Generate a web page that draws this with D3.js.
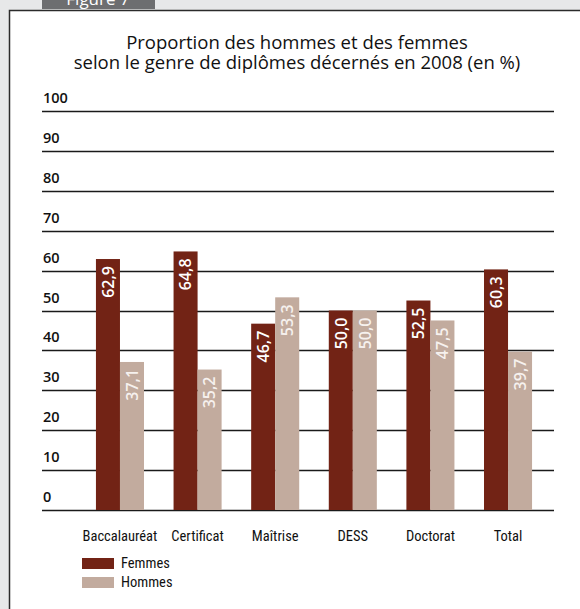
<!DOCTYPE html>
<html>
<head>
<meta charset="utf-8">
<script src="https://cdn.jsdelivr.net/npm/d3@7"></script>
<style>
  body { margin: 0; background: #e7e8e9; }
  svg { display: block; }
</style>
</head>
<body>
<div id="chart"></div>
<script>
var categories = ["Baccalauréat", "Certificat", "Maîtrise", "DESS", "Doctorat", "Total"];
var femmes = [62.9, 64.8, 46.7, 50.0, 52.5, 60.3];
var hommes = [37.1, 35.2, 53.3, 50.0, 47.5, 39.7];
var seriesNames = ["Femmes", "Hommes"];
var yTicks = [0, 10, 20, 30, 40, 50, 60, 70, 80, 90, 100];
var titleLines = ["Proportion des hommes et des femmes", "selon le genre de diplômes décernés en 2008 (en %)"];

var width = 580, height = 609;
var colors = { Femmes: "#722315", Hommes: "#c2ab9e" };
var sans = "'Open Sans', 'Noto Sans', sans-serif";
var narrow = "'Liberation Sans Narrow', 'Roboto Condensed', 'DejaVu Sans Condensed', sans-serif";

var fr = d3.formatLocale({ decimal: ",", thousands: " ", grouping: [3], currency: ["", " €"] });
var fmt = fr.format(".1f");

var svg = d3.select("#chart").append("svg")
  .attr("width", width)
  .attr("height", height);

// page background + framed panel
svg.append("rect").attr("width", width).attr("height", height).attr("fill", "#e7e8e9");
svg.append("rect")
  .attr("x", 9.5).attr("y", 10.5)
  .attr("width", width + 20).attr("height", height + 20)
  .attr("fill", "#fff")
  .attr("stroke", "#2b2b2b")
  .attr("stroke-width", 1.5);

// "Figure 7" tab, cut by the top of the picture
svg.append("rect")
  .attr("x", 42).attr("y", -10)
  .attr("width", 113).attr("height", 19)
  .attr("fill", "#6d6e70");
svg.append("text")
  .attr("x", 98).attr("y", 5)
  .attr("text-anchor", "middle")
  .attr("fill", "#fff")
  .style("font-family", sans)
  .style("font-size", "17px")
  .text("Figure 7");

// title, one text per line
svg.selectAll(".title")
  .data(titleLines)
  .enter().append("text")
  .attr("class", "title")
  .attr("x", 297)
  .attr("y", function(d, i) { return 49 + i * 20; })
  .attr("text-anchor", "middle")
  .attr("fill", "#111")
  .style("font-family", sans)
  .style("font-size", "18.5px")
  .text(function(d) { return d; });

var y = d3.scaleLinear().domain([0, 100]).range([510, 111]);

var x0 = d3.scaleBand()
  .domain(categories)
  .range([81.2, 546.8])
  .paddingInner(0.381)
  .paddingOuter(0.19);

var x1 = d3.scaleBand()
  .domain(seriesNames)
  .range([0, x0.bandwidth()]);

// gridlines + tick labels
var grid = svg.append("g");
grid.selectAll("line")
  .data(yTicks)
  .enter().append("line")
  .attr("x1", 42).attr("x2", 554)
  .attr("y1", function(d) { return Math.round(y(d)) + 0.5; })
  .attr("y2", function(d) { return Math.round(y(d)) + 0.5; })
  .attr("stroke", "#1a1a1a")
  .attr("stroke-width", 1.3);

grid.selectAll("text")
  .data(yTicks)
  .enter().append("text")
  .attr("x", 43)
  .attr("y", function(d) { return y(d) - 8; })
  .attr("fill", "#111")
  .style("font-family", sans)
  .style("font-size", "14.5px")
  .style("font-weight", 600)
  .text(function(d) { return d; });

// bars
var rows = categories.map(function(c, i) {
  return { cat: c, values: [
    { name: "Femmes", value: femmes[i] },
    { name: "Hommes", value: hommes[i] }
  ] };
});

var groups = svg.selectAll(".group")
  .data(rows)
  .enter().append("g")
  .attr("class", "group")
  .attr("transform", function(d) { return "translate(" + x0(d.cat) + ",0)"; });

groups.selectAll("rect")
  .data(function(d) { return d.values; })
  .enter().append("rect")
  .attr("x", function(d) { return x1(d.name); })
  .attr("width", x1.bandwidth())
  .attr("y", function(d) { return y(d.value); })
  .attr("height", function(d) { return y(0) - y(d.value); })
  .attr("fill", function(d) { return colors[d.name]; });

// value labels, rotated, inside the top of each bar
groups.selectAll(".val")
  .data(function(d) { return d.values; })
  .enter().append("text")
  .attr("class", "val")
  .attr("transform", function(d) {
    var cx = x1(d.name) + x1.bandwidth() / 2;
    return "translate(" + cx + "," + (y(d.value) + 7) + ") rotate(-90)";
  })
  .attr("text-anchor", "end")
  .attr("dy", "0.36em")
  .attr("fill", function(d) { return d.name == "Femmes" ? "#fff" : "#f6f1ee"; })
  .style("font-family", sans)
  .style("font-size", "16px")
  .style("font-weight", 600)
  .text(function(d) { return fmt(d.value); });

// category labels
svg.selectAll(".cat")
  .data(categories)
  .enter().append("text")
  .attr("class", "cat")
  .attr("x", function(d) { return x0(d) + x0.bandwidth() / 2; })
  .attr("y", 541)
  .attr("text-anchor", "middle")
  .attr("fill", "#111")
  .style("font-family", narrow)
  .style("font-size", "14.5px")
  .text(function(d) { return d; });

// legend
var legend = svg.selectAll(".legend")
  .data(seriesNames)
  .enter().append("g")
  .attr("class", "legend")
  .attr("transform", function(d, i) { return "translate(82," + (558 + i * 19) + ")"; });

legend.append("rect")
  .attr("width", 32).attr("height", 11)
  .attr("fill", function(d) { return colors[d]; });

legend.append("text")
  .attr("x", 39).attr("y", 10)
  .attr("fill", "#111")
  .style("font-family", narrow)
  .style("font-size", "14.5px")
  .text(function(d) { return d; });
</script>
</body>
</html>
